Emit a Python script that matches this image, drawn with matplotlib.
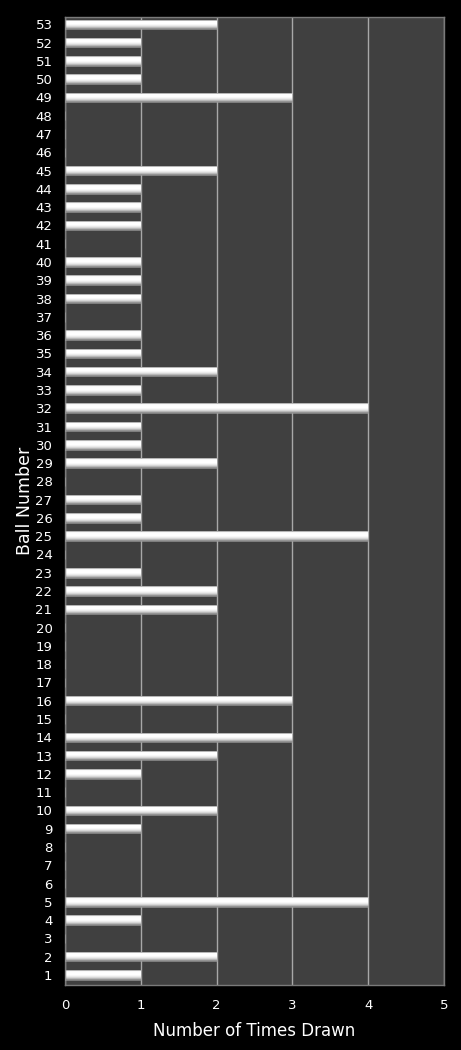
import matplotlib
matplotlib.use("Agg")
import matplotlib.pyplot as plt
import numpy as np

# ball numbers and how many times each was drawn
balls = list(range(1, 54))
times_drawn = [1, 2, 0, 1, 4, 0, 0, 0, 1, 2,
               0, 1, 2, 3, 0, 3, 0, 0, 0, 0,
               2, 2, 1, 0, 4, 1, 1, 0, 2, 1,
               1, 4, 1, 2, 1, 1, 0, 1, 1, 1,
               0, 1, 1, 1, 2, 0, 0, 0, 3, 1,
               1, 1, 2]
x_ticks = [0, 1, 2, 3, 4, 5]

fig = plt.figure(figsize=(4.61, 10.5), dpi=100, facecolor="black")
ax = fig.add_axes([65 / 461, 1 - 985 / 1050, 379 / 461, 968 / 1050])
ax.set_facecolor("#404040")

bar_h = 0.52
bars = ax.barh(balls, times_drawn, height=bar_h, color="none",
               edgecolor="#9a9a9a", linewidth=0.5, zorder=3)

# vertical shading inside each bar: grey bottom, bright body
grad = np.array([0.58, 0.72, 0.84, 0.92, 0.97, 1.0, 1.0, 1.0, 0.98, 0.96]).reshape(-1, 1)
for rect, val in zip(bars, times_drawn):
    if val == 0:
        continue
    y0 = rect.get_y()
    im = ax.imshow(grad, cmap="gray", vmin=0, vmax=1, aspect="auto",
                   extent=[0, val, y0, y0 + bar_h], origin="lower",
                   interpolation="bilinear", zorder=2)
    im.set_clip_path(rect)

ax.set_xlim(0, 5)
ax.set_ylim(0.45, 53.4)
ax.set_xticks(x_ticks)
ax.set_yticks(balls)
ax.tick_params(colors="white", labelsize=9.5, length=0)
ax.tick_params(axis="y", pad=9)
ax.tick_params(axis="x", pad=10)
ax.grid(axis="x", color="#a8a8a8", linewidth=1, zorder=1)
ax.set_axisbelow(True)
for s in ax.spines.values():
    s.set_color("#7a7a7a")
    s.set_linewidth(1)

ax.set_xlabel("Number of Times Drawn", color="white", fontsize=12, labelpad=7)
ax.set_ylabel("Ball Number", color="white", fontsize=12.5, labelpad=1)

fig.savefig("out.png", dpi=100, facecolor="black")
